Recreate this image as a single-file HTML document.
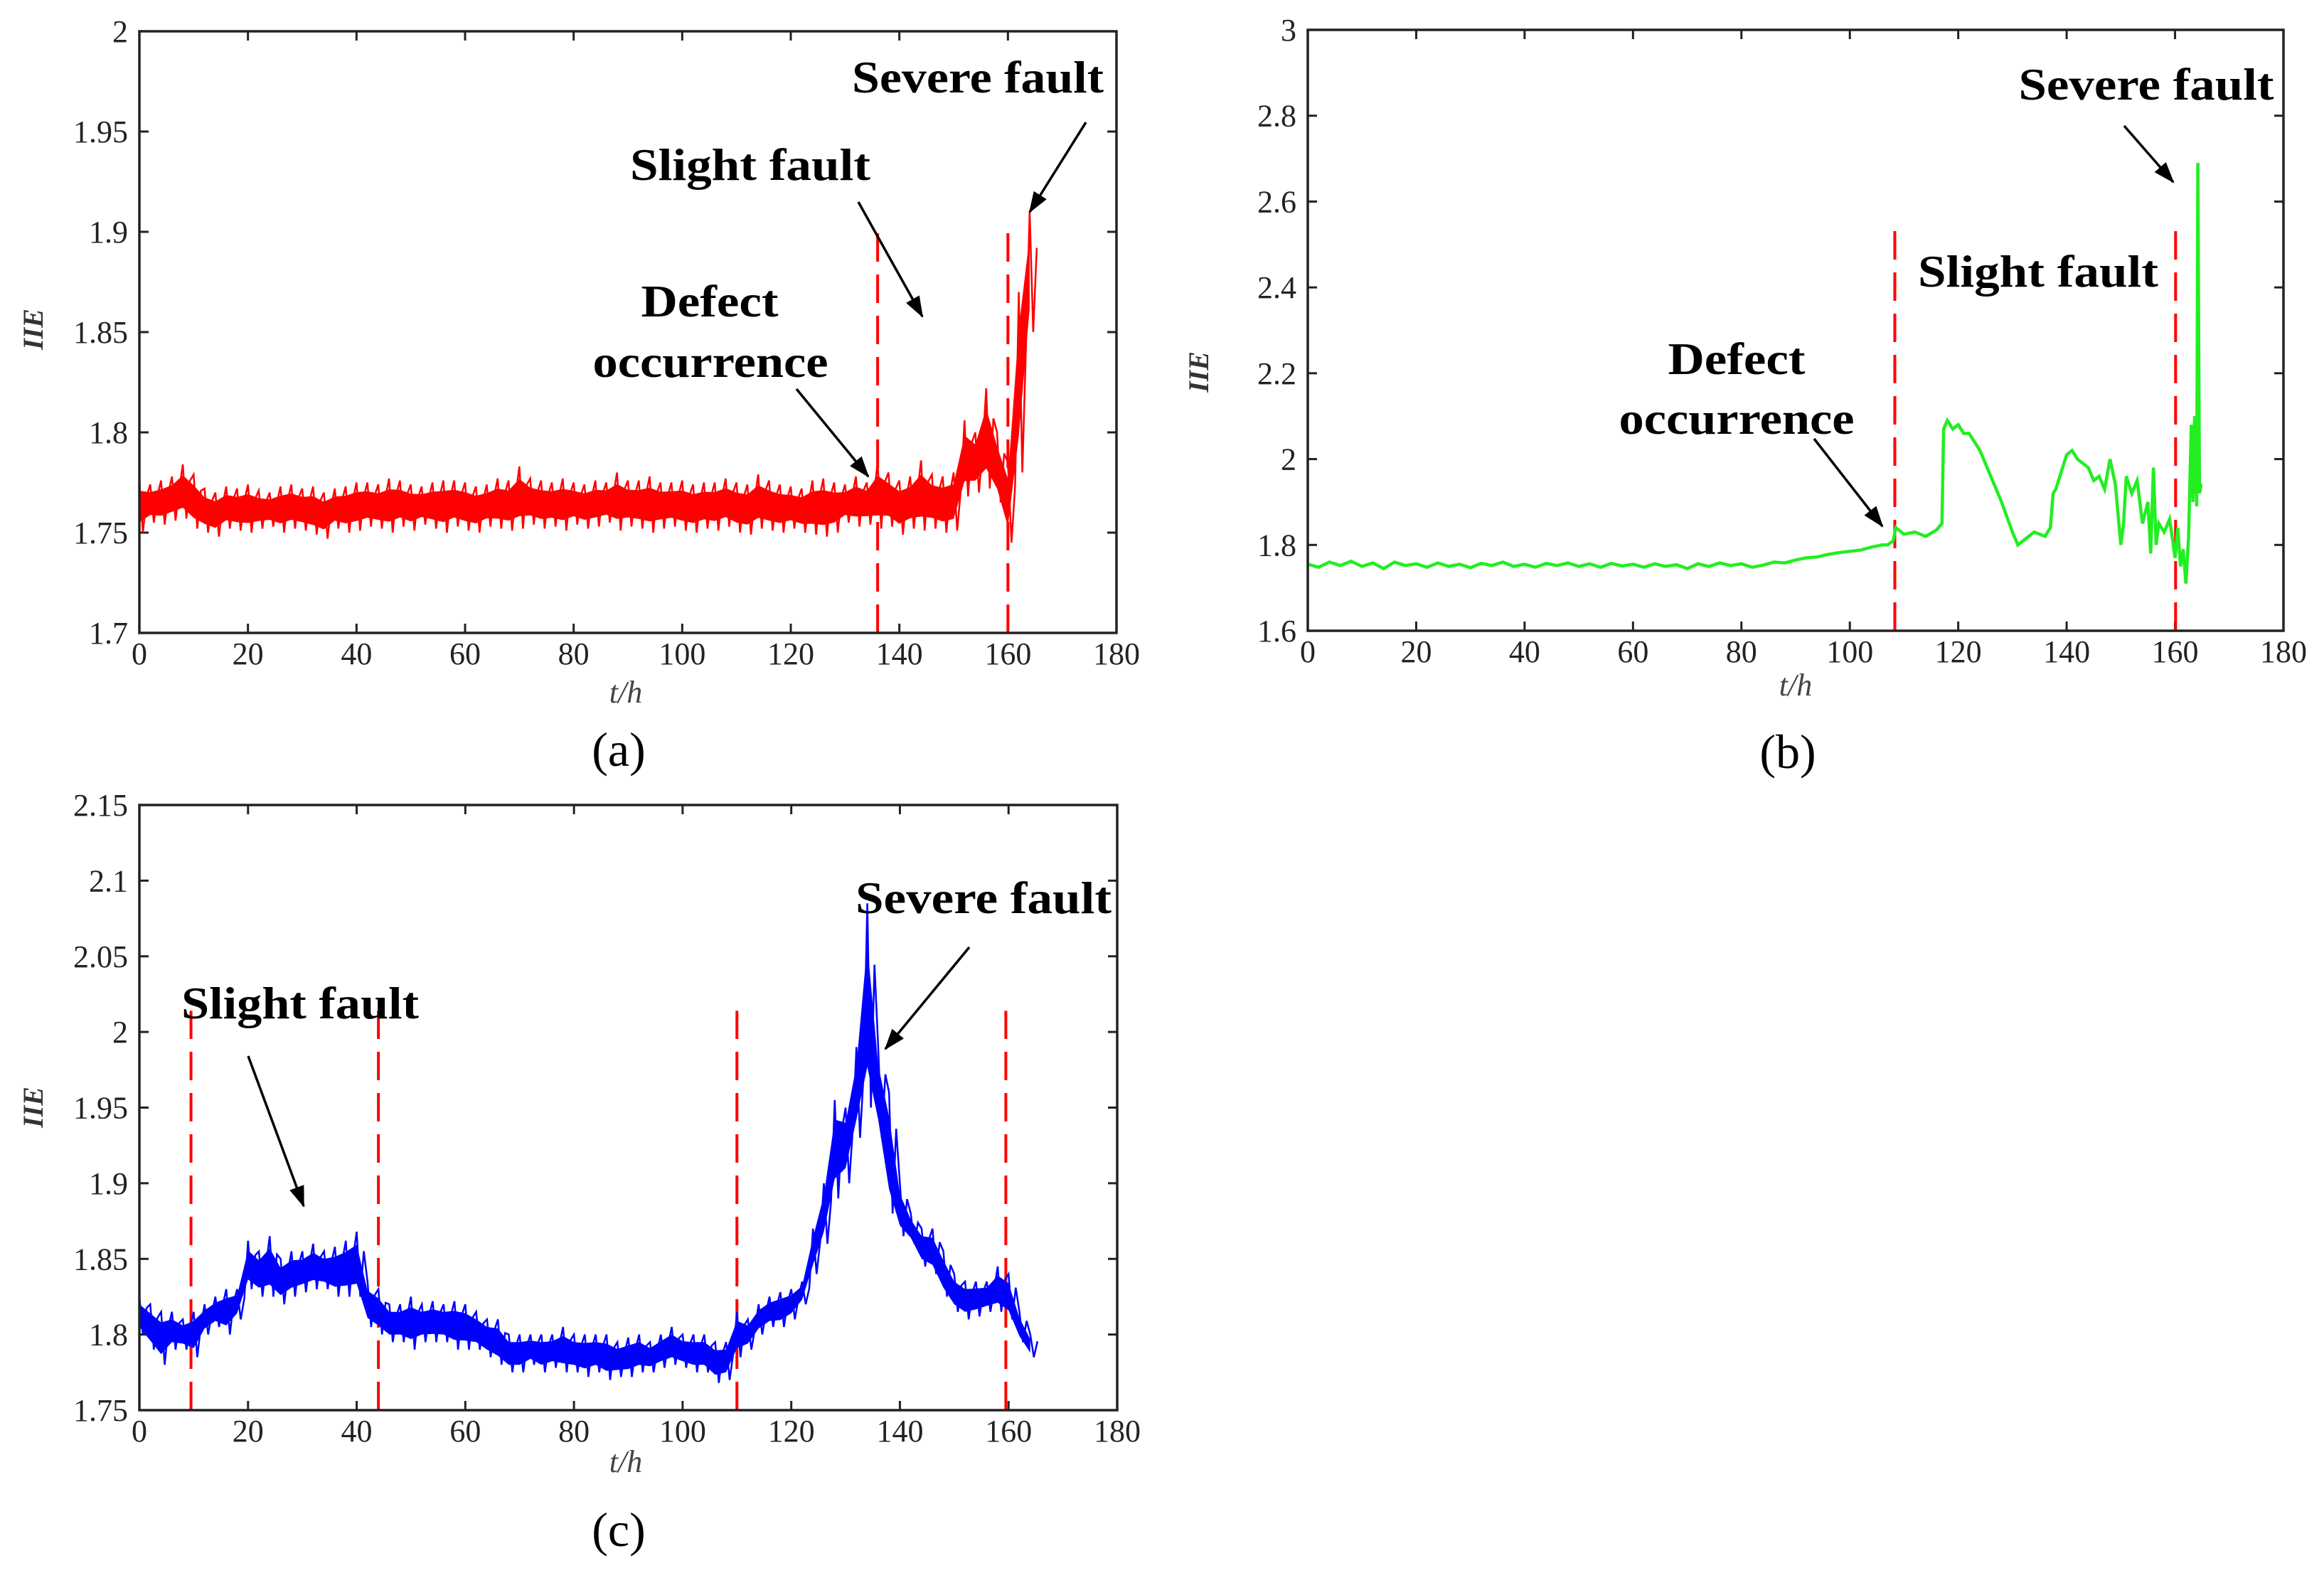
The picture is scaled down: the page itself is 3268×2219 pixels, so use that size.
<!DOCTYPE html>
<html><head><meta charset="utf-8">
<style>
html,body{margin:0;padding:0;background:#fff;}
svg{display:block;}
text{font-family:"Liberation Serif",serif;}
</style></head>
<body>
<svg id="fig" width="3268" height="2219" viewBox="0 0 3268 2219" xmlns="http://www.w3.org/2000/svg">
<defs>
<marker id="ah" viewBox="0 0 14 10" refX="13" refY="5" markerWidth="30" markerHeight="22" markerUnits="userSpaceOnUse" orient="auto">
<path d="M0,0 L14,5 L0,10 z" fill="#000"/></marker>
</defs>
</svg>
<script>
// ---------- data ----------
const xTicks = [0,20,40,60,80,100,120,140,160,180];
const aYTicks = [1.7,1.75,1.8,1.85,1.9,1.95,2];
const aYLabels = ["1.7","1.75","1.8","1.85","1.9","1.95","2"];
const bYTicks = [1.6,1.8,2,2.2,2.4,2.6,2.8,3];
const bYLabels = ["1.6","1.8","2","2.2","2.4","2.6","2.8","3"];
const cYTicks = [1.75,1.8,1.85,1.9,1.95,2,2.05,2.1,2.15];
const cYLabels = ["1.75","1.8","1.85","1.9","1.95","2","2.05","2.1","2.15"];

const aStep = 2;
const aHi = [1.776,1.774,1.776,1.778,1.784,1.779,1.772,1.770,1.773,1.772,
1.774,1.771,1.770,1.773,1.774,1.772,1.773,1.770,1.772,1.773,
1.775,1.775,1.774,1.777,1.776,1.774,1.773,1.775,1.776,1.776,
1.775,1.773,1.774,1.777,1.776,1.783,1.777,1.776,1.775,1.777,
1.775,1.774,1.776,1.775,1.780,1.776,1.776,1.778,1.775,1.775,
1.776,1.774,1.775,1.775,1.777,1.775,1.774,1.779,1.776,1.774,
1.773,1.772,1.776,1.777,1.775,1.774,1.778,1.775,1.785,1.780,
1.776,1.778,1.786,1.779,1.778,1.780,1.806,1.800,1.822,1.800,
1.785,1.870,1.910];
const aLo = [1.750,1.755,1.754,1.756,1.757,1.752,1.750,1.748,1.752,1.751,
1.750,1.752,1.753,1.750,1.752,1.751,1.749,1.747,1.752,1.750,
1.751,1.753,1.752,1.750,1.753,1.751,1.754,1.752,1.750,1.753,
1.751,1.750,1.753,1.752,1.751,1.752,1.754,1.752,1.753,1.751,
1.754,1.752,1.753,1.755,1.751,1.753,1.752,1.750,1.752,1.753,
1.751,1.750,1.752,1.751,1.753,1.750,1.749,1.752,1.751,1.750,
1.752,1.750,1.749,1.748,1.750,1.755,1.753,1.754,1.752,1.753,
1.749,1.752,1.751,1.752,1.750,1.751,1.768,1.770,1.772,1.765,
1.745,1.780,1.850];
const aFaults = [136,160];

const bT = [0,2,4,6,8,10,12,14,16,18,20,22,24,26,28,30,32,34,36,38,40,42,44,46,48,50,52,54,56,58,
60,62,64,66,68,70,72,74,76,78,80,82,84,86,88,90,92,94,96,98,100,102,104,106,
107,108,108.5,110,112,114,116,117,117.3,118,119,120,121,122,124,126,128,130,131,132,
134,136,137,137.5,138,139,140,141,142,143,144,145,146,147,148,149,150,150.5,151,152,
153,154,155,155.5,156,156.5,157,158,159,160,160.5,161,161.5,162,162.5,163,163.3,163.6,164,164.2,
164.5,164.8,165];
const bY = [1.755,1.748,1.760,1.752,1.762,1.750,1.758,1.745,1.760,1.752,
1.756,1.748,1.758,1.750,1.755,1.747,1.757,1.752,1.760,1.750,
1.755,1.748,1.757,1.752,1.758,1.750,1.756,1.748,1.757,1.751,
1.755,1.748,1.756,1.750,1.754,1.745,1.756,1.750,1.758,1.752,
1.756,1.748,1.753,1.760,1.758,1.765,1.770,1.772,1.778,1.782,
1.785,1.788,1.795,1.800,
1.80,1.81,1.84,1.825,1.83,1.82,1.835,1.85,2.07,2.09,
2.07,2.08,2.06,2.06,2.02,1.96,1.90,1.83,1.80,1.81,
1.83,1.82,1.84,1.92,1.93,1.97,2.01,2.02,2.00,1.99,
1.98,1.95,1.96,1.93,2.00,1.94,1.80,1.85,1.96,1.92,
1.95,1.85,1.90,1.78,1.98,1.80,1.85,1.83,1.86,1.77,
1.84,1.75,1.79,1.71,1.82,2.08,1.90,2.10,1.89,2.69,
1.92,1.94,1.94];
const bFaults = [108.3,160.1];

const cStep = 2;
const cHi = [1.825,1.82,1.815,1.815,1.81,1.815,1.82,1.825,1.83,1.83,
1.862,1.855,1.865,1.85,1.855,1.855,1.86,1.855,1.858,1.862,
1.868,1.835,1.83,1.82,1.82,1.825,1.82,1.822,1.82,1.822,
1.82,1.815,1.81,1.81,1.80,1.80,1.80,1.80,1.80,1.805,
1.80,1.80,1.80,1.80,1.795,1.798,1.80,1.795,1.80,1.805,
1.80,1.80,1.80,1.795,1.795,1.815,1.81,1.82,1.825,1.828,
1.83,1.835,1.87,1.90,1.955,1.95,1.99,2.085,1.99,1.96,
1.90,1.88,1.87,1.87,1.855,1.84,1.835,1.835,1.835,1.845,
1.84,1.815,1.80];
const cLo = [1.80,1.79,1.78,1.79,1.79,1.785,1.80,1.805,1.80,1.81,
1.83,1.825,1.825,1.82,1.825,1.828,1.83,1.83,1.825,1.825,
1.825,1.805,1.80,1.795,1.795,1.79,1.795,1.795,1.795,1.79,
1.79,1.79,1.785,1.78,1.775,1.775,1.78,1.775,1.778,1.775,
1.775,1.772,1.775,1.77,1.772,1.772,1.775,1.775,1.778,1.78,
1.778,1.775,1.775,1.768,1.77,1.785,1.79,1.80,1.805,1.805,
1.81,1.82,1.84,1.86,1.89,1.90,1.93,1.95,1.93,1.88,
1.865,1.86,1.845,1.84,1.825,1.815,1.81,1.812,1.815,1.815,
1.81,1.795,1.785];
const cFaults = [9.5,44,110,159.5];

// ---------- drawing ----------
const NS = "http://www.w3.org/2000/svg";
const svg = document.getElementById('fig');
function mk(tag, attrs, parent){
  const e = document.createElementNS(NS, tag);
  for (const k in attrs) e.setAttribute(k, attrs[k]);
  (parent||svg).appendChild(e);
  return e;
}
function makeScale(d0,d1,r0,r1){ return v => r0 + (v-d0)/(d1-d0)*(r1-r0); }

function panel(id, box, yMin, yMax, yTicks, yLabels, faultTop, faults){
  const g = mk('g', {});
  
  
  const X = makeScale(0,180,box.l,box.r);
  const Y = makeScale(yMin,yMax,box.b,box.t);
  xTicks.forEach(v=>{
    const x = X(v);
    const t1 = mk('line',{x1:x,y1:box.b,x2:x,y2:box.b-13,stroke:'#222','stroke-width':3},g);
    
    
    mk('line',{x1:x,y1:box.t,x2:x,y2:box.t+13,stroke:'#222','stroke-width':3},g);
    const tx = mk('text',{x:x,y:box.b+44,'text-anchor':'middle','font-size':44,fill:'#222'},g);
    tx.textContent = String(v);
    
    
  });
  yTicks.forEach((v,i)=>{
    const y = Y(v);
    const t1 = mk('line',{x1:box.l,y1:y,x2:box.l+13,y2:y,stroke:'#222','stroke-width':3},g);
    
    
    mk('line',{x1:box.r,y1:y,x2:box.r-13,y2:y,stroke:'#222','stroke-width':3},g);
    const tx = mk('text',{x:box.l-16,y:y+15,'text-anchor':'end','font-size':44,fill:'#222'},g);
    tx.textContent = yLabels[i];
    
    
  });
  faults.forEach(t=>{
    const l = mk('line',{x1:X(t),y1:box.b,x2:X(t),y2:Y(faultTop),stroke:'#ff0000','stroke-width':4,'stroke-dasharray':'40 18'},g);
    
    
  });
  return {g,X,Y};
}

function envelopeSeries(p, step, hi, lo, color, name){
  const n = Math.min(hi.length, lo.length);
  // inner band (narrowed envelope) as fill
  let fd = '';
  for (let i=0;i<n;i++){
    const m = (hi[i]+lo[i])/2, h = (hi[i]-lo[i])*0.3;
    fd += (i===0?'M':'L') + p.X(i*step).toFixed(1) + ',' + p.Y(m+h).toFixed(1);
  }
  for (let i=n-1;i>=0;i--){
    const m = (hi[i]+lo[i])/2, h = (hi[i]-lo[i])*0.3;
    fd += 'L' + p.X(i*step).toFixed(1) + ',' + p.Y(m-h).toFixed(1);
  }
  fd += 'Z';
  const band = mk('path',{d:fd,fill:color,stroke:'none'},p.g);
  
  
  // zigzag noise line
  let d = '';
  for (let i=0;i<n;i++){
    const t = i*step;
    d += (i===0?'M':'L') + p.X(t).toFixed(1) + ',' + p.Y(hi[i]).toFixed(1);
    d += 'L' + p.X(t+step*0.33).toFixed(1) + ',' + p.Y(lo[i]).toFixed(1);
    d += 'L' + p.X(t+step*0.66).toFixed(1) + ',' + p.Y((hi[i]*0.7+lo[i]*0.3)).toFixed(1);
  }
  const path = mk('path',{d:d,fill:'none',stroke:color,'stroke-width':2.5,'stroke-linejoin':'miter'},p.g);
  
  
}
function lineSeries(p, ts, ys, color, name){
  const n = Math.min(ts.length, ys.length);
  let d='';
  for (let i=0;i<n;i++) d += (i===0?'M':'L') + p.X(ts[i]).toFixed(1) + ',' + p.Y(ys[i]).toFixed(1);
  const path = mk('path',{d:d,fill:'none',stroke:color,'stroke-width':4.5},p.g);
  
  
}
function frame(p, box){
  const r = mk('rect',{x:box.l,y:box.t,width:box.r-box.l,height:box.b-box.t,fill:'none',stroke:'#222','stroke-width':3.5},p.g);
  
  
}
function label(txt,x,y,size,opts,name){
  const t = mk('text',Object.assign({x:x,y:y,'font-size':size,'text-anchor':'middle',fill:'#000'},opts||{}));
  t.textContent = txt;
  
  
  return t;
}
function arrow(x1,y1,x2,y2,name){
  const a = mk('line',{x1:x1,y1:y1,x2:x2,y2:y2,stroke:'#000','stroke-width':3.5,'marker-end':'url(#ah)'});
  
  
}
function annot(txt,cx,y,w,name){
  return label(txt,cx,y,64,{'font-weight':'bold',textLength:w,lengthAdjust:'spacingAndGlyphs'},name);
}

const boxA = {l:196,r:1570,t:44,b:890};
const pA = panel('a', boxA, 1.7, 2.0, aYTicks, aYLabels, 1.90, aFaults);
envelopeSeries(pA, aStep, aHi, aLo, '#ff0000', 'series-a-iie');
frame(pA, boxA);
const boxB = {l:1839,r:3211,t:42,b:887};
const pB = panel('b', boxB, 1.6, 3.0, bYTicks, bYLabels, 2.54, bFaults);
lineSeries(pB, bT, bY, '#22ee22', 'series-b-iie');
frame(pB, boxB);
const boxC = {l:196,r:1571,t:1132,b:1983};
const pC = panel('c', boxC, 1.75, 2.15, cYTicks, cYLabels, 2.014, cFaults);
envelopeSeries(pC, cStep, cHi, cLo, '#0000ff', 'series-c-iie');
frame(pC, boxC);

label('t/h',880,988,44,{'font-style':'italic',fill:'#444'},'x-axis-title-a');
label('t/h',2525,978,44,{'font-style':'italic',fill:'#444'},'x-axis-title-b');
label('t/h',880,2070,44,{'font-style':'italic',fill:'#444'},'x-axis-title-c');
label('IIE',0,0,40,{'font-style':'italic','font-weight':'bold',fill:'#333',transform:'translate(60,463) rotate(-90)'},'y-axis-title-a');
label('IIE',0,0,40,{'font-style':'italic','font-weight':'bold',fill:'#333',transform:'translate(1699,523) rotate(-90)'},'y-axis-title-b');
label('IIE',0,0,40,{'font-style':'italic','font-weight':'bold',fill:'#333',transform:'translate(60,1557) rotate(-90)'},'y-axis-title-c');

label('(a)',870,1077,68,{},'caption-a');
label('(b)',2514,1080,68,{},'caption-b');
label('(c)',870,2174,68,{},'caption-c');

annot('Severe fault',1375,130,354,'annotation-severe-fault-a');
arrow(1527,172,1448,298,'arrow-severe-fault-a');
annot('Slight fault',1055,253,338,'annotation-slight-fault-a');
arrow(1207,284,1297,445,'arrow-slight-fault-a');
annot('Defect',998,445,193,'annotation-defect-a');
annot('occurrence',999,530,331,'annotation-occurrence-a');
arrow(1120,547,1221,670,'arrow-defect-a');
annot('Severe fault',3018,140,359,'annotation-severe-fault-b');
arrow(2987,177,3056,256,'arrow-severe-fault-b');
annot('Slight fault',2866,403,338,'annotation-slight-fault-b');
annot('Defect',2442,526,193,'annotation-defect-b');
annot('occurrence',2442,610,331,'annotation-occurrence-b');
arrow(2551,617,2647,740,'arrow-defect-b');
annot('Slight fault',422,1432,334,'annotation-slight-fault-c');
arrow(349,1485,427,1696,'arrow-slight-fault-c');
annot('Severe fault',1383,1284,360,'annotation-severe-fault-c');
arrow(1363,1332,1245,1475,'arrow-severe-fault-c');
</script>
</body></html>
